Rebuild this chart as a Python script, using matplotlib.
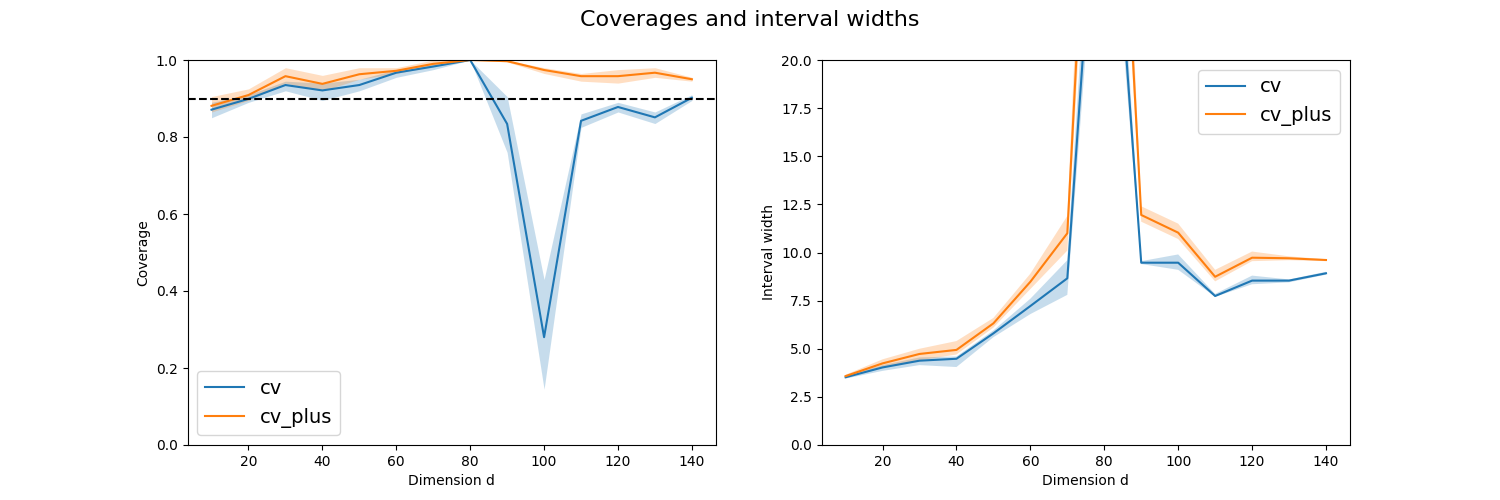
import numpy as np
import matplotlib
matplotlib.use("Agg")
import matplotlib.pyplot as plt

dims = [10, 20, 30, 40, 50, 60, 70, 80, 90, 100, 110, 120, 130, 140]

# coverage (mean, lower, upper)
cov_cv = [0.871, 0.899, 0.935, 0.921, 0.935, 0.967, 0.983, 1.0, 0.834, 0.28, 0.842, 0.878, 0.851, 0.902]
cov_cv_lo = [0.85, 0.89, 0.92, 0.895, 0.92, 0.955, 0.975, 1.0, 0.76, 0.145, 0.825, 0.865, 0.835, 0.895]
cov_cv_hi = [0.89, 0.91, 0.945, 0.94, 0.95, 0.975, 0.99, 1.0, 0.905, 0.43, 0.86, 0.89, 0.865, 0.91]
cov_plus = [0.881, 0.909, 0.958, 0.938, 0.963, 0.972, 0.99, 1.0, 0.997, 0.974, 0.958, 0.958, 0.967, 0.95]
cov_plus_lo = [0.865, 0.895, 0.94, 0.92, 0.95, 0.965, 0.985, 1.0, 0.995, 0.965, 0.945, 0.94, 0.955, 0.945]
cov_plus_hi = [0.905, 0.925, 0.98, 0.96, 0.98, 0.98, 1.0, 1.0, 1.0, 0.98, 0.965, 0.975, 0.98, 0.955]

# interval widths (mean, lower, upper)
wid_cv = [3.52, 4.03, 4.38, 4.48, 5.80, 7.22, 8.66, 36.0, 9.47, 9.47, 7.74, 8.54, 8.54, 8.92]
wid_cv_lo = [3.45, 3.85, 4.15, 4.05, 5.6, 6.8, 7.8, 33.0, 9.4, 9.1, 7.7, 8.35, 8.45, 8.85]
wid_cv_hi = [3.6, 4.15, 4.55, 4.6, 5.95, 7.6, 9.6, 40.0, 9.55, 9.9, 7.85, 8.8, 8.6, 9.0]
wid_plus = [3.58, 4.24, 4.73, 4.94, 6.32, 8.48, 11.0, 48.0, 11.95, 11.03, 8.74, 9.73, 9.7, 9.61]
wid_plus_lo = [3.5, 4.05, 4.4, 4.7, 6.1, 8.1, 10.1, 44.0, 11.6, 10.7, 8.5, 9.55, 9.6, 9.55]
wid_plus_hi = [3.65, 4.45, 5.0, 5.4, 6.6, 8.9, 11.9, 55.0, 12.4, 11.5, 9.1, 10.05, 9.8, 9.65]

fig, (ax1, ax2) = plt.subplots(1, 2, figsize=(15, 5))
fig.suptitle("Coverages and interval widths", fontsize=16)

ax1.plot(dims, cov_cv, color="tab:blue", label="cv")
ax1.fill_between(dims, cov_cv_lo, cov_cv_hi, color="tab:blue", alpha=0.25, lw=0)
ax1.plot(dims, cov_plus, color="tab:orange", label="cv_plus")
ax1.fill_between(dims, cov_plus_lo, cov_plus_hi, color="tab:orange", alpha=0.25, lw=0)
ax1.axhline(0.9, color="black", ls="--")
ax1.set_ylim(0, 1)
ax1.set_xlabel("Dimension d")
ax1.set_ylabel("Coverage")
ax1.legend(loc="lower left", fontsize=14)

ax2.plot(dims, wid_cv, color="tab:blue", label="cv")
ax2.fill_between(dims, wid_cv_lo, wid_cv_hi, color="tab:blue", alpha=0.25, lw=0)
ax2.plot(dims, wid_plus, color="tab:orange", label="cv_plus")
ax2.fill_between(dims, wid_plus_lo, wid_plus_hi, color="tab:orange", alpha=0.25, lw=0)
ax2.set_ylim(0, 20)
ax2.set_xlabel("Dimension d")
ax2.set_ylabel("Interval width")
ax2.legend(loc="upper right", fontsize=14)

fig.savefig("out.png", dpi=100)
